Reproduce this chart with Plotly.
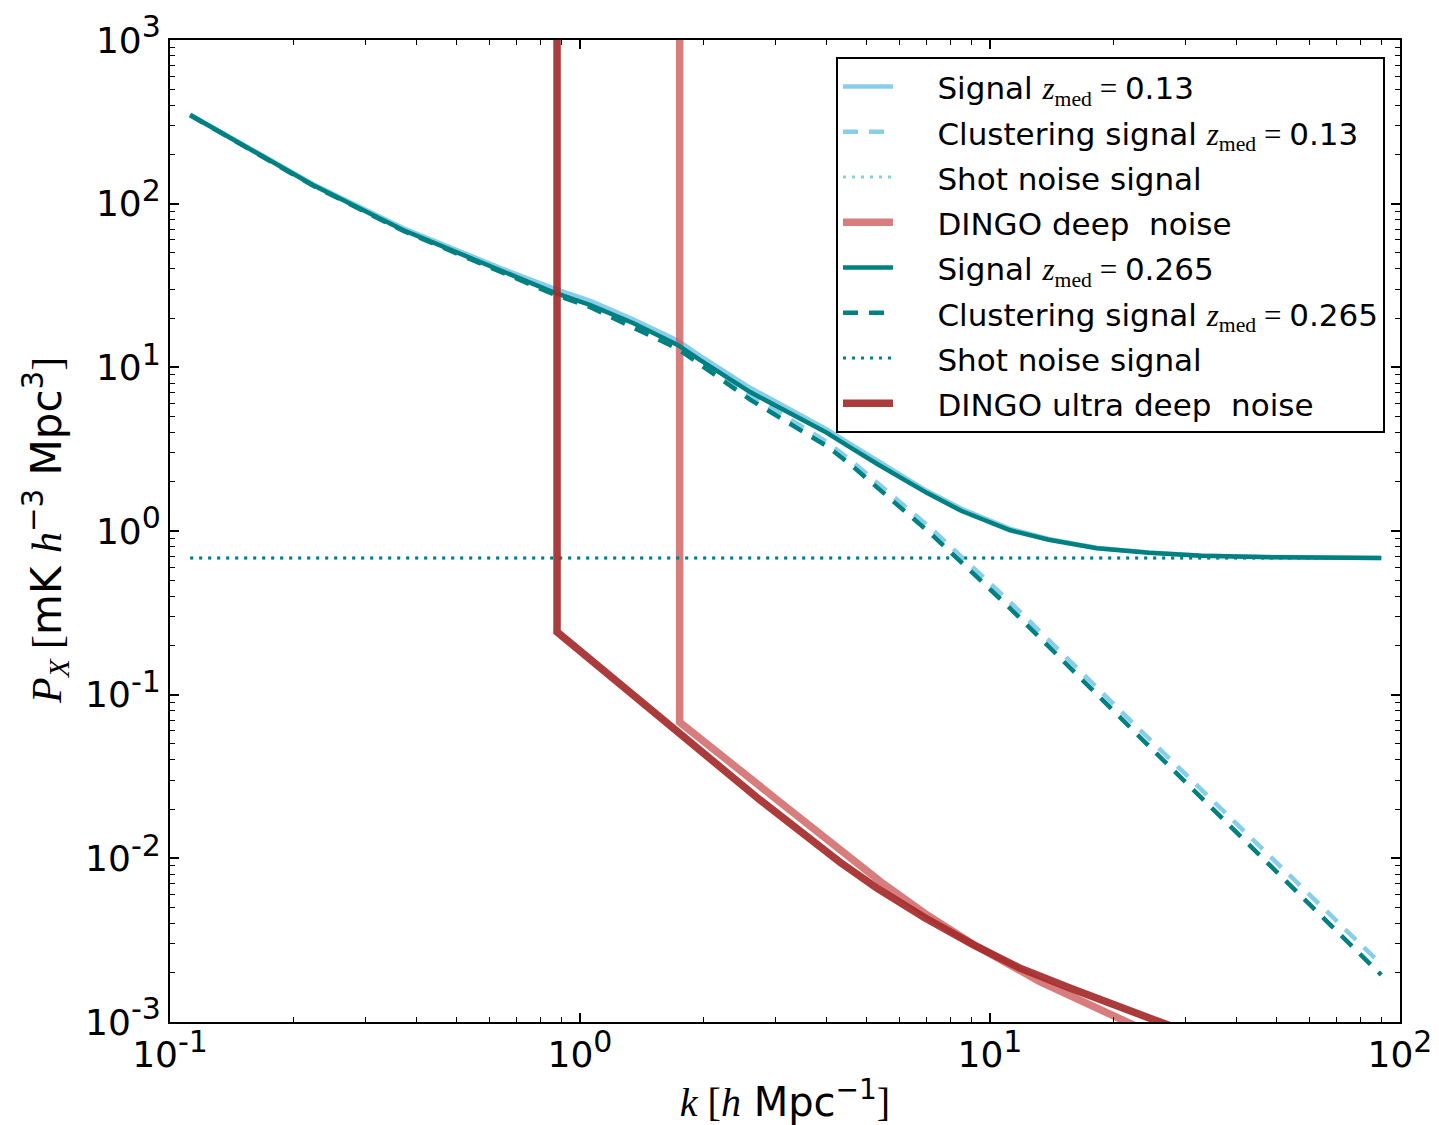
import plotly.graph_objects as go

# ---- data ----
k_sig = [0.112, 0.223, 0.37, 0.648, 0.859, 1.06, 1.35, 1.73, 1.96, 2.60, 3.07, 4.0, 4.56, 5.36,
         7.01, 8.5, 11.2, 13.9, 18.2, 24.4, 32.7, 50, 90]
sig_013 = [350, 132, 71, 40, 30.5, 25.5, 19.6, 14.6, 11.8, 7.5, 6.0, 4.18, 3.4, 2.64,
           1.76, 1.37, 1.03, 0.895, 0.79, 0.74, 0.709, 0.693, 0.685]
sig_0265 = [348, 130, 69, 38.2, 28.8, 24.0, 18.6, 13.7, 11.1, 7.06, 5.68, 3.98, 3.24, 2.53,
            1.71, 1.33, 1.01, 0.885, 0.785, 0.737, 0.706, 0.691, 0.684]

k_clu = [0.112, 0.223, 0.37, 0.648, 0.859, 1.06, 1.73, 2.60, 4.0, 4.56, 7.14, 10.99, 23.2, 90]
clu_013 = [349, 131, 70, 39.3, 29.8, 24.8, 13.9, 6.8, 3.5, 2.72, 1.05, 0.385, 0.061, 0.00225]
clu_0265 = [347, 129, 68.3, 37.5, 28.1, 23.3, 13.0, 6.35, 3.3, 2.56, 0.972, 0.353, 0.0551, 0.00194]

k_shot = [0.112, 90]
shot_013 = [0.684, 0.684]
shot_0265 = [0.684, 0.684]

k_deep = [1.75, 1.75, 3.02, 3.44, 4.30, 5.40, 6.93, 9.09, 13.2, 20.2, 26.0]
noise_deep = [1e4, 0.068, 0.02284, 0.0176, 0.01127, 0.00722, 0.00461, 0.00299, 0.00177, 0.00106, 0.000805]

k_ultra = [0.879, 0.879, 2.75, 3.44, 4.30, 5.30, 6.93, 9.09, 11.8, 15.6, 20.2, 26.1, 40]
noise_ultra = [1e4, 0.2415, 0.0227, 0.0145, 0.00949, 0.00658, 0.00434, 0.00297, 0.00214, 0.00162,
               0.00126, 0.000995, 0.00068]

x_major = [0.1, 1, 10, 100]
x_exp = ["-1", "0", "1", "2"]
y_major = [1e-3, 1e-2, 1e-1, 1, 10, 100, 1000]
y_exp = ["-3", "-2", "-1", "0", "1", "2", "3"]


def pow_label(e):
    return "10<sup><span style='font-size:30px'>%s</span></sup>" % e


x_labels = [pow_label(e) for e in x_exp]
y_labels = [pow_label(e) for e in y_exp]

SKY = "#87CEEB"
TEAL = "#008080"
DEEP = "rgba(205,92,92,0.8)"
ULTRA = "rgba(165,42,42,0.92)"

SERIF = "font-family:Liberation Serif"
PAD = "\u00a0\u00a0\u00a0\u00a0"


def lab(text):
    return "<span style='font-size:31px'>" + PAD + text + "</span>"


def zlab(prefix, val):
    return lab(prefix + " <span style='%s'><i>z</i><sub>med</sub> = </span>%s" % (SERIF, val))


fig = go.Figure()
fig.add_trace(go.Scatter(x=k_sig, y=sig_013, mode="lines", name=zlab("Signal", "0.13"),
                         line=dict(color=SKY, width=4.5)))
fig.add_trace(go.Scatter(x=k_clu, y=clu_013, mode="lines", name=zlab("Clustering signal", "0.13"),
                         line=dict(color=SKY, width=4.5, dash="15px,11px")))
fig.add_trace(go.Scatter(x=k_shot, y=shot_013, mode="lines", name=lab("Shot noise signal"),
                         line=dict(color=SKY, width=3, dash="3px,6px")))
fig.add_trace(go.Scatter(x=k_deep, y=noise_deep, mode="lines", name=lab("DINGO deep  noise"),
                         line=dict(color=DEEP, width=7.5)))
fig.add_trace(go.Scatter(x=k_sig, y=sig_0265, mode="lines", name=zlab("Signal", "0.265"),
                         line=dict(color=TEAL, width=4.5)))
fig.add_trace(go.Scatter(x=k_clu, y=clu_0265, mode="lines", name=zlab("Clustering signal", "0.265"),
                         line=dict(color=TEAL, width=4.5, dash="15px,11px")))
fig.add_trace(go.Scatter(x=k_shot, y=shot_0265, mode="lines", name=lab("Shot noise signal"),
                         line=dict(color=TEAL, width=3, dash="3px,6px")))
fig.add_trace(go.Scatter(x=k_ultra, y=noise_ultra, mode="lines", name=lab("DINGO ultra deep  noise"),
                         line=dict(color=ULTRA, width=7.5)))

minor_x = [m * 10 ** e for e in range(-1, 2) for m in range(2, 10)]
minor_y = [m * 10 ** e for e in range(-3, 3) for m in range(2, 10)]

axis_common = dict(
    type="log", showgrid=False, zeroline=False, showline=True, linecolor="black",
    linewidth=2, mirror="ticks", ticks="inside", ticklen=9, tickwidth=1.5, tickcolor="black",
    tickfont=dict(family="DejaVu Sans", size=36, color="black"),
)

fig.update_xaxes(**axis_common, range=[-1, 2], tickmode="array", tickvals=x_major, ticktext=x_labels,
                 minor=dict(ticks="inside", ticklen=5, tickwidth=1.2, tickcolor="black",
                            tickmode="array", tickvals=minor_x, showgrid=False),
                 title=dict(text="<span style='%s'><i>k</i> [<i>h</i></span> Mpc<sup>−1</sup><span style='%s'>]</span>" % (SERIF, SERIF),
                            font=dict(family="DejaVu Sans", size=40, color="black"), standoff=14))
fig.update_yaxes(**axis_common, range=[-3, 3], tickmode="array", tickvals=y_major, ticktext=y_labels,
                 minor=dict(ticks="inside", ticklen=5, tickwidth=1.2, tickcolor="black",
                            tickmode="array", tickvals=minor_y, showgrid=False))

fig.add_annotation(
    text="<span style='%s'><i>P</i><sub><i>X</i></sub> [</span>mK <span style='%s'><i>h</i></span><sup>−3</sup> Mpc<sup>3</sup><span style='%s'>]</span>" % (SERIF, SERIF, SERIF),
    xref="paper", yref="paper", x=(45 - 170) / 1230, y=0.5, xanchor="center", yanchor="middle",
    textangle=-90, showarrow=False,
    font=dict(family="DejaVu Sans", size=42, color="black"))

fig.update_layout(
    width=1439, height=1125,
    margin=dict(l=170, r=39, t=40, b=103, autoexpand=False),
    paper_bgcolor="white", plot_bgcolor="white",
    showlegend=True,
    legend=dict(x=0.9878, y=0.9827, xanchor="right", yanchor="top",
                bgcolor="white", bordercolor="black", borderwidth=2,
                font=dict(family="DejaVu Sans", size=32.5, color="black"),
                itemwidth=50, tracegroupgap=0),
)

fig.write_html("out.html")
